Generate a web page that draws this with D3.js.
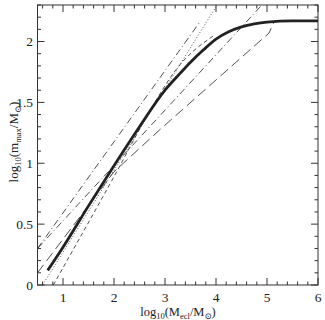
<!DOCTYPE html>
<html><head><meta charset="utf-8">
<script src="https://cdn.jsdelivr.net/npm/d3@7"></script>
<style>body{margin:0;background:#fff}svg{display:block}text{font-family:"Liberation Serif","DejaVu Serif",serif;fill:#222}</style>
</head><body>
<script>
// Data (log10 Mecl, log10 mmax)
const thickX = [0.7,1.0,1.5,2.0,2.5,3.0,3.3,3.5,3.75,4.0,4.25,4.5,4.75,5.0,5.5,6.0];
const thickY = [0.12,0.31,0.65,0.98,1.30,1.60,1.74,1.83,1.93,2.02,2.08,2.12,2.145,2.16,2.17,2.17];
const dottedX = [0.6,4.02];
const dottedY = [0.0,2.3];
const dashDotAX = [0.5,3.7];
const dashDotAY = [0.30,2.17];
const dashDotBX = [0.5,4.9];
const dashDotBY = [0.30,2.3];
const longDashX = [0.5,2.0,2.91,5.04,5.15,6.0];
const longDashY = [0.10,0.93,1.28,2.07,2.17,2.17];
const shortDashX = [0.81,2.0,2.8,3.2,3.96];
const shortDashY = [0.0,0.89,1.50,1.76,2.05];
const xTicks = [1,2,3,4,5,6];
const yTicks = [0,0.5,1,1.5,2];

const W=325,H=320;
const svg=d3.select("body").append("svg").attr("width",W).attr("height",H);
const x=d3.scaleLinear().domain([0.5,6]).range([37.5,318]);
const y=d3.scaleLinear().domain([0,2.3]).range([285,5]);

svg.append("clipPath").attr("id","c").append("rect")
  .attr("x",x(0.5)).attr("y",y(2.3)).attr("width",x(6)-x(0.5)).attr("height",y(0)-y(2.3));

const zip=(a,b)=>a.map((v,i)=>[v,b[i]]);
const g=svg.append("g").attr("clip-path","url(#c)");
function draw(xs,ys,w,dash,curve){
  const l=d3.line().x(d=>x(d[0])).y(d=>y(d[1])).curve(curve||d3.curveLinear);
  g.append("path").attr("d",l(zip(xs,ys))).attr("fill","none").attr("stroke","#222")
   .attr("stroke-width",w).attr("stroke-dasharray",dash||null);
}
draw(dottedX,dottedY,0.8,"1,2");
draw(dashDotAX,dashDotAY,0.8,"7,3,1,3");
draw(dashDotBX,dashDotBY,0.8,"7,3,1,3");
draw(longDashX,longDashY,0.8,"10,5");
draw(shortDashX,shortDashY,0.8,"4,3",d3.curveMonotoneX);
draw(thickX,thickY,2.8,null,d3.curveMonotoneX);

// frame
svg.append("rect").attr("x",x(0.5)).attr("y",y(2.3)).attr("width",x(6)-x(0.5)).attr("height",y(0)-y(2.3))
  .attr("fill","none").attr("stroke","#333").attr("stroke-width",1);

// ticks
const ax=svg.append("g").attr("stroke","#333").attr("stroke-width",1);
const xMinor=d3.range(0.6,6.001,0.2);
xMinor.forEach(v=>{
  const major=Math.abs(v-Math.round(v))<1e-6;
  const L=major?7:3.5;
  ax.append("line").attr("x1",x(v)).attr("x2",x(v)).attr("y1",y(0)).attr("y2",y(0)-L);
  ax.append("line").attr("x1",x(v)).attr("x2",x(v)).attr("y1",y(2.3)).attr("y2",y(2.3)+L);
});
const yMinor=d3.range(0,2.301,0.1);
yMinor.forEach(v=>{
  const major=Math.abs(v*2-Math.round(v*2))<1e-6;
  const L=major?7:3.5;
  ax.append("line").attr("y1",y(v)).attr("y2",y(v)).attr("x1",x(0.5)).attr("x2",x(0.5)+L);
  ax.append("line").attr("y1",y(v)).attr("y2",y(v)).attr("x1",x(6)).attr("x2",x(6)-L);
});
svg.selectAll(".xt").data(xTicks).enter().append("text")
  .attr("x",d=>x(d)).attr("y",302).attr("text-anchor","middle").attr("font-size",13.5).text(d=>d);
svg.selectAll(".yt").data(yTicks).enter().append("text")
  .attr("x",33).attr("y",d=>y(d)+4.5).attr("text-anchor","end").attr("font-size",13.5).text(d=>d);

// axis labels
const xl=svg.append("text").attr("x",178).attr("y",316).attr("text-anchor","middle").attr("font-size",12.5);
xl.append("tspan").text("log");
xl.append("tspan").attr("font-size",8.5).attr("dy",3).text("10");
xl.append("tspan").attr("dy",-3).text("(M");
xl.append("tspan").attr("font-size",8.5).attr("dy",3).text("ecl");
xl.append("tspan").attr("dy",-3).text("/M");
xl.append("tspan").attr("font-size",8.5).attr("dy",3).text("⊙");
xl.append("tspan").attr("dy",-3).text(")");

const yl=svg.append("text").attr("transform","translate(18,142) rotate(-90)").attr("text-anchor","middle").attr("font-size",13);
yl.append("tspan").text("log");
yl.append("tspan").attr("font-size",8.5).attr("dy",3).text("10");
yl.append("tspan").attr("dy",-3).text("(m");
yl.append("tspan").attr("font-size",8.5).attr("dy",3).text("max");
yl.append("tspan").attr("dy",-3).text("/M");
yl.append("tspan").attr("font-size",8.5).attr("dy",3).text("⊙");
yl.append("tspan").attr("dy",-3).text(")");
</script>
</body></html>
